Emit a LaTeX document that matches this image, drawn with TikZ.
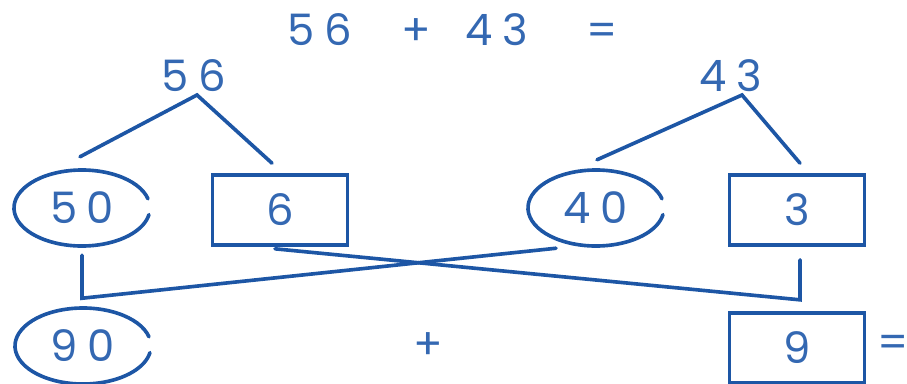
\documentclass[tikz,border=0pt]{standalone}
\usepackage{fontspec}
\setmainfont{Poppins}[LetterSpace=22]
\usepackage{xcolor}
\usetikzlibrary{calc}
\definecolor{penblue}{HTML}{1D56A5}
\definecolor{inkblue}{HTML}{3468B2}

\begin{document}
\begin{tikzpicture}[
    x=0.03cm, y=0.03cm,
    num/.style={text=inkblue, font=\fontsize{37}{40}\selectfont, inner sep=0pt},
    box/.style={num, draw=penblue, line width=3.1pt, minimum width=4.05cm, minimum height=2.1cm},
    ring/.style={num, minimum width=4.08cm, minimum height=2.28cm},
    link/.style={draw=penblue, line width=3.1pt, line cap=round}]
    \path[use as bounding box, clip] (0,0) rectangle (907,-383);
    % sum and the two parts
    \node[num] (title) at (453,-30) {56\hspace{42pt}+\hspace{30pt}43\hspace{50pt}=};
    \node[num] (a56) at (194,-76) {56};
    \node[num] (a43) at (731,-76) {43};
    \node[ring] (c50) at (82,-208) {50};
    \node[box] (b6) at (280,-210) {6};
    \node[ring] (c40) at (596,-208) {40};
    \node[box] (b3) at (797,-210) {3};
    \node[ring] (c90) at (83,-346) {90};
    \node[num] (plus) at (428,-346) {+};
    \node[box] (b9) at (797,-348) {9};
    \node[num] (eq) at (893,-346) {=};
    \foreach \n in {c50,c40,c90}
      \draw[link] (\n.center) ++(14:68 and 38) arc[start angle=14, end angle=350, x radius=68, y radius=38];
    % split lines
    \draw[link] ($(c50.north)+(-2,13)$) -- (197,-95) -- ($(b6.north)+(-8,10)$);
    \draw[link] ($(c40.north)+(1,10)$) -- (742,-95) -- ($(b3.north)+(3,10)$);
    % tens and ones
    \draw[link] ($(c50.south)+(0,-9)$) -- ++(0,-43) -- ($(c40.south)+(-40,-2)$);
    \draw[link] ($(b6.south)+(-5,-2)$) -- ($(b3.south)+(3,-53)$) -- ($(b3.south)+(3,-13)$);
\end{tikzpicture}
\end{document}
